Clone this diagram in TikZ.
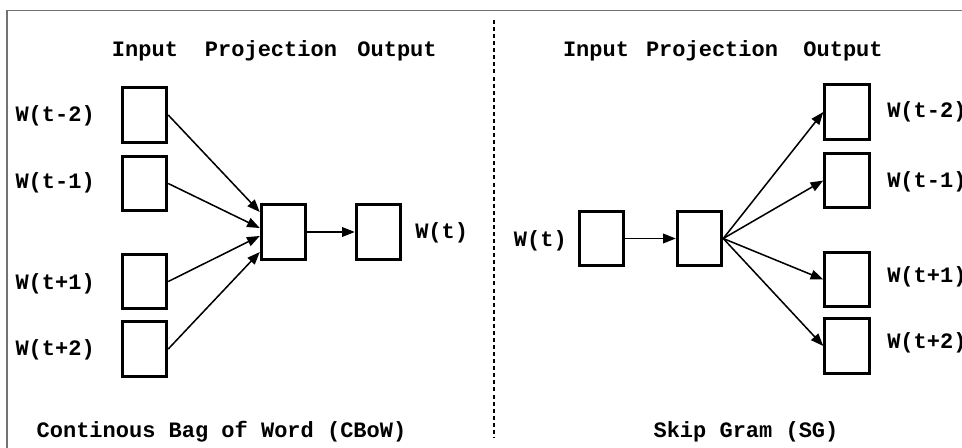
\documentclass[tikz,border=0pt]{standalone}
\usepackage{fontspec}
\setmonofont{Liberation Mono}
\usetikzlibrary{arrows.meta,calc}
\begin{document}
\begin{tikzpicture}[x=0.75pt,y=-0.75pt,
  cell/.style={draw,line width=2.1pt,minimum width=33.5pt,minimum height=41pt,inner sep=0pt},
  txt/.style={font=\ttfamily\bfseries\fontsize{16.5pt}{19pt}\selectfont,inner sep=0pt},
  link/.style={line width=1.15pt,-{Triangle[length=9.5pt,width=7.2pt]}},
  frame/.style={draw=black!55,line width=1.1pt},
  divider/.style={line width=1.2pt,dash pattern=on 3pt off 2.3pt},
]
\useasboundingbox (0,0) rectangle (962,447);

% outer frame (open to the right and bottom)
\draw[frame] (7,470) -- (7,10.5) -- (980,10.5);

% dashed separator between the two models
\coordinate (dtop) at (494,20);
\coordinate (dbot) at (494,438);
\draw[divider] (dtop) -- (dbot);

% ---------- CBoW ----------
\node[txt,anchor=base] (hinL) at (145,56) {Input};
\node[txt,anchor=base] (hprL) at (271,56) {Projection};
\node[txt,anchor=base] (houL) at (397,56) {Output};

\node[cell] (i1) at (144.5,115) {};
\node[cell] (i2) at (144.5,183.5) {};
\node[cell] (i3) at (144.5,281.5) {};
\node[cell] (i4) at (144.5,349) {};
\node[cell] (pL) at (283.5,232) {};
\node[cell] (oL) at (378.5,232) {};

\node[txt,anchor=base east] (li1) at (95,121) {W(t-2)};
\node[txt,anchor=base east] (li2) at (95,188) {W(t-1)};
\node[txt,anchor=base east] (li3) at (95,289) {W(t+1)};
\node[txt,anchor=base east] (li4) at (95,355) {W(t+2)};
\node[txt,anchor=base west] (loL) at (415,238) {W(t)};

\draw[link] (i1.east) -- ($(pL.west)+(0,-20)$);
\draw[link] (i2.east) -- ($(pL.west)+(0,-4)$);
\draw[link] (i3.east) -- ($(pL.west)+(0,4)$);
\draw[link] (i4.east) -- ($(pL.west)+(0,20)$);
\draw[link] (pL.east) -- (oL.west);

\node[txt,anchor=base] (tL) at (221.5,437) {Continous Bag of Word (CBoW)};

% ---------- Skip-gram ----------
\node[txt,anchor=base] (hinR) at (596,56) {Input};
\node[txt,anchor=base] (hprR) at (712,56) {Projection};
\node[txt,anchor=base] (houR) at (843,56) {Output};

\node[cell] (iR) at (601.5,238.5) {};
\node[cell] (pR) at (699.5,238.5) {};
\node[cell] (o1) at (847,112) {};
\node[cell] (o2) at (847,180.5) {};
\node[cell] (o3) at (847,279.5) {};
\node[cell] (o4) at (847,346) {};

\node[txt,anchor=base east] (liR) at (567,246) {W(t)};
\node[txt,anchor=base west] (lo1) at (887,117) {W(t-2)};
\node[txt,anchor=base west] (lo2) at (887,187) {W(t-1)};
\node[txt,anchor=base west] (lo3) at (887,282) {W(t+1)};
\node[txt,anchor=base west] (lo4) at (887,348) {W(t+2)};

\draw[link] (iR.east) -- (pR.west);
\draw[link] (pR.east) -- (o1.west);
\draw[link] (pR.east) -- (o2.west);
\draw[link] (pR.east) -- (o3.west);
\draw[link] (pR.east) -- (o4.west);

\node[txt,anchor=base] (tR) at (746,437) {Skip Gram (SG)};
\end{tikzpicture}
\end{document}
